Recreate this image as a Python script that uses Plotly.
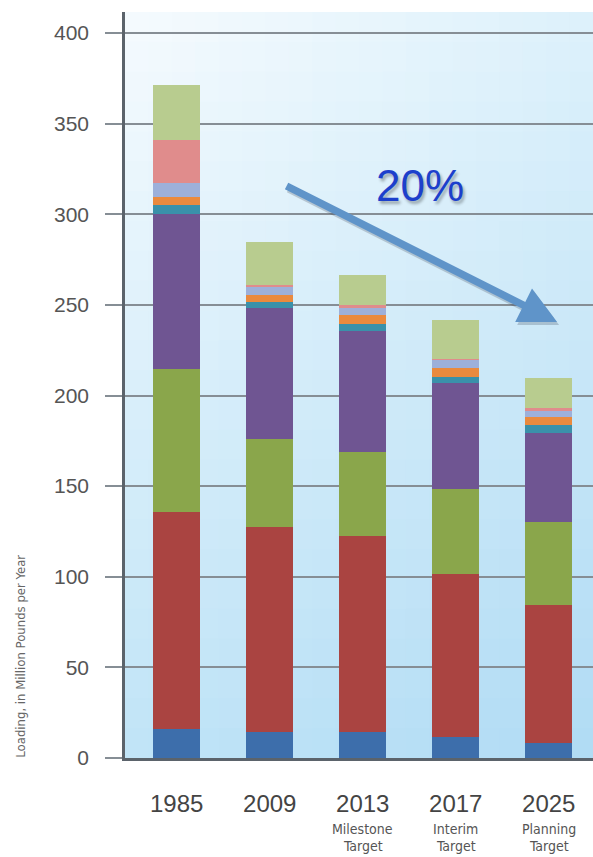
import plotly.graph_objects as go

# ---- data ----
categories = ["1985", "2009", "2013", "2017", "2025"]
sublabels = [None, None, ("Milestone", "Target"), ("Interim", "Target"), ("Planning", "Target")]

blue      = [15.8, 14.2, 14.2, 11.8, 8.1]
red       = [120.1, 113.4, 108.3, 89.7, 76.3]
green     = [78.7, 48.4, 46.5, 46.7, 46.0]
purple    = [85.3, 72.1, 66.8, 58.5, 49.1]
teal      = [5.2, 3.7, 3.6, 3.7, 4.2]
orange    = [4.6, 3.6, 5.0, 4.6, 4.6]
lavender  = [7.4, 4.6, 4.0, 4.6, 3.3]
pink      = [23.9, 1.0, 1.5, 0.5, 1.3]
lightgrn  = [30.3, 23.9, 16.6, 21.7, 16.6]

series = [
    ("Blue", blue, "#3d6eab"),
    ("Red", red, "#aa4441"),
    ("Green", green, "#8aa64b"),
    ("Purple", purple, "#6f5592"),
    ("Teal", teal, "#3a91aa"),
    ("Orange", orange, "#ea8a3e"),
    ("Lavender", lavender, "#9db0da"),
    ("Pink", pink, "#e08c8c"),
    ("Light green", lightgrn, "#b8cc8f"),
]

yticks = [0, 50, 100, 150, 200, 250, 300, 350, 400]

xs = list(range(len(categories)))

NARROW = "DejaVu Sans Condensed, Liberation Sans Narrow, Liberation Sans, sans-serif"

fig = go.Figure()
for name, vals, col in series:
    fig.add_trace(go.Bar(
        x=xs, y=vals, name=name, width=0.5,
        marker=dict(color=col, line=dict(width=0)),
        showlegend=False,
    ))

# ---- gradient background (paper coords) ----
TL = (246, 251, 254)
TR = (221, 241, 251)
BL = (192, 228, 247)
BR = (176, 219, 244)
ncol, nrow = 20, 25
shapes = []
for i in range(ncol):
    for j in range(nrow):
        u = (i + 0.5) / ncol
        v = (j + 0.5) / nrow  # 0 top, 1 bottom
        c = [round((1 - u) * (1 - v) * TL[k] + u * (1 - v) * TR[k] + (1 - u) * v * BL[k] + u * v * BR[k]) for k in range(3)]
        shapes.append(dict(
            type="rect", xref="paper", yref="paper",
            x0=i / ncol, x1=(i + 1) / ncol + 0.002,
            y0=1 - (j + 1) / nrow - 0.002, y1=1 - j / nrow,
            fillcolor=f"rgb({c[0]},{c[1]},{c[2]})",
            line=dict(width=0), layer="below",
        ))

annotations = []
# sub labels
for i, sl in enumerate(sublabels):
    if sl:
        annotations.append(dict(
            x=i, xref="x", y=0, yref="paper", yanchor="middle", yshift=-71,
            text=sl[0], showarrow=False,
            font=dict(family=NARROW, size=14, color="#555555"),
        ))
        annotations.append(dict(
            x=i, xref="x", y=0, yref="paper", yanchor="middle", yshift=-88,
            text=sl[1], showarrow=False,
            font=dict(family=NARROW, size=14, color="#555555"),
        ))

# y-axis title
annotations.append(dict(
    x=-0.224, xref="paper", y=0.136, yref="paper",
    text="Loading, in Million Pounds per Year", textangle=-90,
    showarrow=False, xanchor="center", yanchor="middle",
    font=dict(family=NARROW, size=13, color="#666666"),
))

# arrow shadow + arrow
for col, sx, sy in [("rgba(40,50,70,0.22)", 2, -3), ("#5f94c9", 0, 0)]:
    annotations.append(dict(
        x=4.09, y=240.5, xref="x", yref="y",
        ax=1.165, ay=316, axref="x", ayref="y",
        text="", showarrow=True, arrowhead=2, arrowsize=1.0,
        arrowwidth=7.5, arrowcolor=col, standoff=0,
        xshift=sx, yshift=sy,
    ))

# 20% label
annotations.append(dict(
    x=2.616, y=316, xref="x", yref="y",
    text="20%", showarrow=False,
    font=dict(family="Liberation Sans", size=44, color="#1c40cc",
              shadow="2px 3px 3px rgba(0,0,0,0.3)"),
))

fig.update_layout(
    width=593, height=857,
    margin=dict(l=125, r=0, t=12, b=99),
    paper_bgcolor="white",
    plot_bgcolor="rgba(0,0,0,0)",
    barmode="stack",
    bargap=0.5,
    shapes=shapes,
    annotations=annotations,
    xaxis=dict(
        range=[-0.556, 4.476],
        tickmode="array", tickvals=xs, ticktext=categories,
        ticks="", showgrid=False, zeroline=False,
        showline=True, linecolor="#5b636b", linewidth=2.5,
        tickfont=dict(family="Liberation Sans", size=24, color="#444444"),
        ticklabelstandoff=22,
    ),
    yaxis=dict(
        range=[0, 411.6],
        tickmode="array", tickvals=yticks,
        ticks="outside", ticklen=17, tickwidth=1.5, tickcolor="#868e95",
        showgrid=True, gridcolor="#868e95", gridwidth=1.5,
        zeroline=False,
        showline=True, linecolor="#5b636b", linewidth=2.5,
        tickfont=dict(family="Liberation Sans", size=21, color="#555555"),
        ticklabelstandoff=12,
    ),
)

fig.write_html("out.html")
